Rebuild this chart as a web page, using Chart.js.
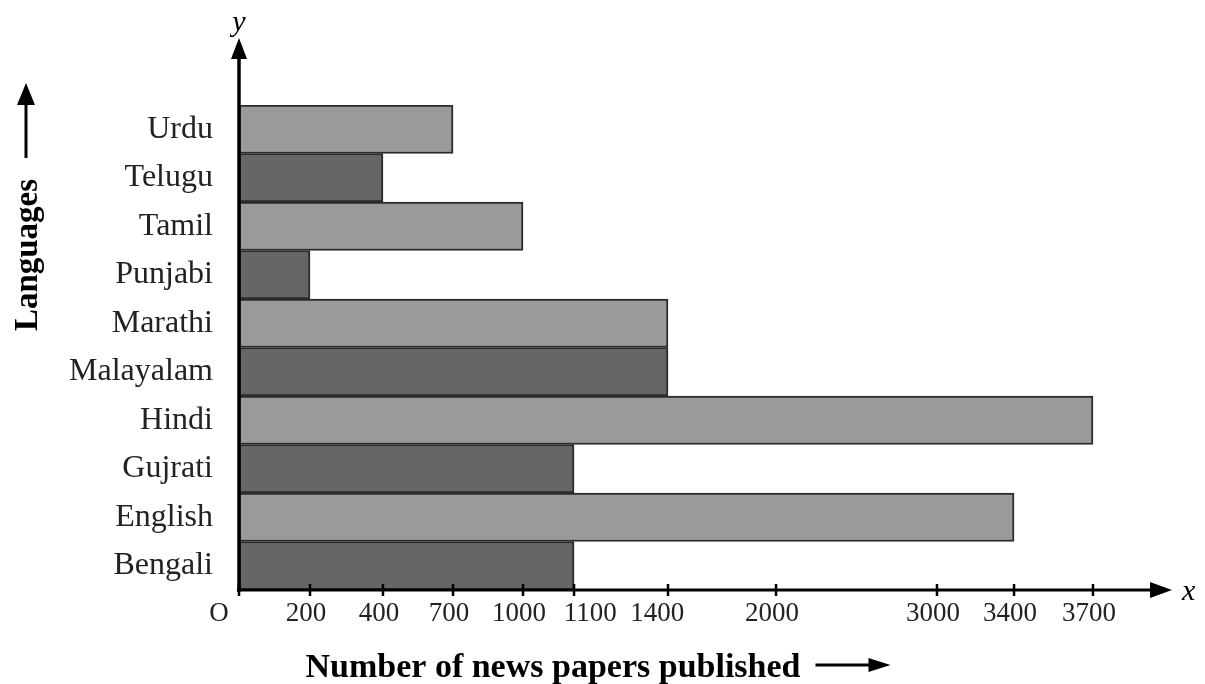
<!DOCTYPE html>
<html lang="en">
<head>
    <meta charset="UTF-8">
    <title>Number of news papers published</title>
    <script src="https://cdn.jsdelivr.net/npm/chart.js"></script>
    <style>
        html, body { margin: 0; padding: 0; background: #fff; }
        .chart-box { width: 1205px; height: 684px; }
    </style>
</head>
<body>
    <div class="chart-box">
        <canvas id="barChart"></canvas>
    </div>

    <script>
        // data
        const languages = ['Urdu', 'Telugu', 'Tamil', 'Punjabi', 'Marathi', 'Malayalam', 'Hindi', 'Gujrati', 'English', 'Bengali'];
        const newspapers = [700, 400, 1000, 200, 1400, 1400, 3700, 1100, 3400, 1100];
        const xTickValues = [0, 200, 400, 700, 1000, 1100, 1400, 2000, 3000, 3400, 3700];

        // the x axis in the picture is not to scale: where each tick sits along the axis (0..1)
        const xTickFractions = [0, 0.0761, 0.1543, 0.2294, 0.3044, 0.3591, 0.4598, 0.5756, 0.7481, 0.8307, 0.9153];
        const xMax = 4000;

        const lightGrey = '#9a9a9a';
        const darkGrey = '#666666';
        const serif = "'Liberation Serif', 'DejaVu Serif', serif";

        // linear scale whose ticks are placed at given fractions, piecewise linear in between
        class SteppedScale extends Chart.LinearScale {
            stops() {
                const v = xTickValues.concat([xMax]);
                const f = xTickFractions.concat([1]);
                return { v, f };
            }
            buildTicks() {
                return xTickValues.map(value => ({ value }));
            }
            getPixelForValue(value) {
                const { v, f } = this.stops();
                let i = 0;
                while (i < v.length - 2 && value > v[i + 1]) i++;
                const t = (value - v[i]) / (v[i + 1] - v[i]);
                return this.getPixelForDecimal(f[i] + t * (f[i + 1] - f[i]));
            }
            getValueForPixel(pixel) {
                const { v, f } = this.stops();
                const d = this.getDecimalForPixel(pixel);
                let i = 0;
                while (i < f.length - 2 && d > f[i + 1]) i++;
                const t = (d - f[i]) / (f[i + 1] - f[i]);
                return v[i] + t * (v[i + 1] - v[i]);
            }
        }
        SteppedScale.id = 'stepped';
        SteppedScale.defaults = Chart.LinearScale.defaults;
        Chart.register(SteppedScale);

        function arrowHead(ctx, x, y, dir, len, half) {
            ctx.beginPath();
            if (dir === 'up') {
                ctx.moveTo(x, y);
                ctx.lineTo(x - half, y + len);
                ctx.lineTo(x + half, y + len);
            } else {
                ctx.moveTo(x, y);
                ctx.lineTo(x - len, y - half);
                ctx.lineTo(x - len, y + half);
            }
            ctx.closePath();
            ctx.fill();
        }

        // axes with arrows, tick marks and axis titles like the textbook figure
        const axisDecor = {
            id: 'axisDecor',
            afterDatasetsDraw(chart) {
                const { ctx, chartArea: a, scales: { x } } = chart;
                ctx.save();
                ctx.strokeStyle = '#000';
                ctx.fillStyle = '#000';
                ctx.lineCap = 'butt';

                // y axis
                ctx.lineWidth = 3.5;
                ctx.beginPath();
                ctx.moveTo(a.left, a.bottom + 2);
                ctx.lineTo(a.left, a.top - 50);
                ctx.stroke();
                arrowHead(ctx, a.left, a.top - 67, 'up', 21, 8);

                // x axis
                ctx.lineWidth = 3;
                ctx.beginPath();
                ctx.moveTo(a.left - 2, a.bottom);
                ctx.lineTo(a.right - 18, a.bottom);
                ctx.stroke();
                arrowHead(ctx, a.right, a.bottom, 'right', 22, 8);

                // tick marks crossing the x axis
                ctx.lineWidth = 2.5;
                x.ticks.forEach(t => {
                    const px = x.getPixelForValue(t.value);
                    ctx.beginPath();
                    ctx.moveTo(px, a.bottom - 6);
                    ctx.lineTo(px, a.bottom + 6);
                    ctx.stroke();
                });

                // axis letters and origin
                ctx.font = 'italic 30px ' + serif;
                ctx.textBaseline = 'alphabetic';
                ctx.textAlign = 'left';
                ctx.fillText('x', a.right + 10, a.bottom + 10);
                ctx.textAlign = 'center';
                ctx.fillText('y', a.left, a.top - 74);
                ctx.font = '27px ' + serif;
                ctx.fillStyle = '#222';
                ctx.fillText('O', a.left - 20, a.bottom + 31);

                // x axis title with arrow
                ctx.fillStyle = '#000';
                ctx.font = 'bold 34px ' + serif;
                ctx.textAlign = 'center';
                const xTitle = 'Number of news papers published';
                const cx = 553, by = 677;
                ctx.fillText(xTitle, cx, by);
                const end = cx + ctx.measureText(xTitle).width / 2;
                ctx.lineWidth = 3;
                ctx.beginPath();
                ctx.moveTo(end + 15, by - 12);
                ctx.lineTo(end + 70, by - 12);
                ctx.stroke();
                arrowHead(ctx, end + 90, by - 12, 'right', 22, 7);

                // y axis title with arrow
                ctx.font = 'bold 33px ' + serif;
                ctx.save();
                ctx.translate(37, 255);
                ctx.rotate(-Math.PI / 2);
                ctx.fillText('Languages', 0, 0);
                ctx.restore();
                ctx.beginPath();
                ctx.moveTo(26, 158);
                ctx.lineTo(26, 100);
                ctx.stroke();
                arrowHead(ctx, 26, 83, 'up', 22, 9);

                ctx.restore();
            }
        };

        const ctx = document.getElementById('barChart').getContext('2d');
        new Chart(ctx, {
            type: 'bar',
            data: {
                labels: languages,
                datasets: [{
                    label: 'Number of news papers',
                    data: newspapers,
                    backgroundColor: languages.map((_, i) => i % 2 === 0 ? lightGrey : darkGrey),
                    borderColor: '#2b2b2b',
                    borderWidth: 2,
                    borderSkipped: false,
                    barPercentage: 1,
                    categoryPercentage: 1
                }]
            },
            options: {
                indexAxis: 'y',
                responsive: true,
                maintainAspectRatio: false,
                animation: false,
                layout: { padding: { left: 0, right: 33, top: 105, bottom: 0 } },
                plugins: {
                    legend: { display: false },
                    tooltip: { enabled: false }
                },
                scales: {
                    x: {
                        type: 'stepped',
                        min: 0,
                        max: xMax,
                        grid: { display: false, drawTicks: false },
                        border: { display: false },
                        ticks: {
                            autoSkip: false,
                            maxRotation: 0,
                            padding: 8,
                            labelOffset: -4,
                            color: '#222',
                            font: { family: serif, size: 27 },
                            // the book nudges the crowded 1100 / 1400 labels apart
                            callback: v => {
                                if (v === 0) return '';
                                if (v === 1100) return '      ' + v;
                                if (v === 1400) return v + '  ';
                                return String(v);
                            }
                        },
                        afterFit: s => { s.height = 94; }
                    },
                    y: {
                        grid: { display: false, drawTicks: false },
                        border: { display: false },
                        ticks: {
                            padding: 26,
                            color: '#222',
                            font: { family: serif, size: 32 }
                        },
                        afterFit: s => { s.width = 239; }
                    }
                }
            },
            plugins: [axisDecor]
        });
    </script>
</body>
</html>
